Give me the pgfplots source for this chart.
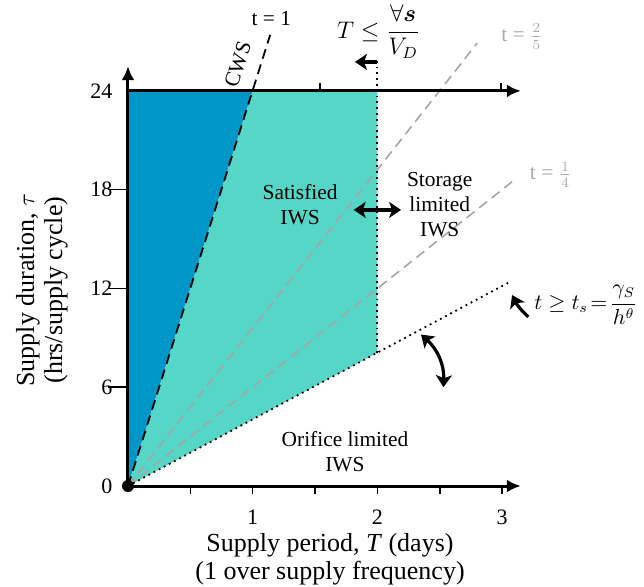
\documentclass[border=0pt]{standalone}
\usepackage{amsmath}
\usepackage{fontspec}
\setmainfont{Liberation Serif}
\usepackage{pgfplots}
\pgfplotsset{compat=1.18}
\usetikzlibrary{arrows.meta}
\definecolor{cwsblue}{RGB}{0,150,200}
\definecolor{iwsteal}{RGB}{85,214,199}
\definecolor{lgray}{RGB}{165,165,165}
\definecolor{tgray}{RGB}{170,170,170}
\begin{document}
\begin{tikzpicture}
\useasboundingbox (-64pt,-50pt) rectangle (258pt,243pt);
\begin{axis}[
  at={(0pt,0pt)}, anchor=south west,
  scale only axis, width=196.4pt, height=209.9pt,
  xmin=0, xmax=3.15, ymin=0, ymax=25.5,
  axis lines=left,
  axis line style={line width=1.5pt, -{Latex[length=7pt,width=6.5pt]}},
  axis on top,
  clip=false,
  xtick={0.5,1,1.5,2,2.5,3}, xticklabels={,1,,2,,3},
  ytick={6,12,18}, extra y ticks={0,24},
  extra y tick style={ytick style={/pgfplots/major tick length=0pt}},
  tick align=outside,
  xtick style={/pgfplots/major tick length=4pt, line width=0.8pt, black},
  ytick style={/pgfplots/major tick length=10pt, line width=0.8pt, black},
  tick label style={font=\fontsize{11}{13}\selectfont},
  xticklabel style={yshift=-4pt},
  /pgf/number format/assume math mode=true,
]
% regions
\addplot[fill=cwsblue, draw=none] coordinates {(0,0) (0,24) (1,24) (0,0)};
\addplot[fill=iwsteal, draw=none] coordinates {(0,0) (1,24) (2,24) (2,8.1) (0,0)};
% lines
\addplot[lgray, dash pattern=on 5pt off 3pt, line width=0.8pt] coordinates {(0,0) (2.8,26.9)};
\addplot[lgray, dash pattern=on 5pt off 3pt, line width=0.8pt] coordinates {(0,0) (3.1,18.6)};
\addplot[black, dash pattern=on 5pt off 3pt, line width=0.9pt] coordinates {(0,0) (1.14,27.4)};
\addplot[black, dotted, line width=0.9pt] coordinates {(0,0) (2,8.1) (3.06,12.39)};
\addplot[black, dotted, line width=0.9pt] coordinates {(2,8.1) (2,25.9)};
% top line at 24
\addplot[black, line width=1.5pt, -{Latex[length=7pt,width=6.5pt]}] coordinates {(0,24) (3.15,24)};
\draw[line width=0.8pt] (axis cs:1.54,24) -- ++(0,4pt);
\draw[line width=0.8pt] (axis cs:2.99,24) -- ++(0,4pt);
% origin dot
\fill (axis cs:0,0) circle (3pt);
% arrows
\draw[line width=1.6pt, -{Stealth[length=6pt,width=8pt,inset=1.5pt]}] (axis cs:2,25.76) -- (axis cs:1.82,25.76);
\draw[line width=1.6pt, {Stealth[length=6pt,width=8pt,inset=1.5pt]}-{Stealth[length=6pt,width=8pt,inset=1.5pt]}] (axis cs:1.81,16.77) -- (axis cs:2.19,16.77);
\draw[line width=1.6pt, {Stealth[length=6pt,width=8pt,inset=1.5pt]}-{Stealth[length=6pt,width=8pt,inset=1.5pt]}] (axis cs:2.35,9.2) to[bend left=25] (axis cs:2.53,6.0);
\draw[line width=1.6pt, -{Stealth[length=6pt,width=8pt,inset=1.5pt]}] (axis cs:3.21,10.27) to[bend left=10] (axis cs:3.08,11.6);
% texts
\def\lbl{\fontsize{10.7}{12.5}\selectfont}
\node[font=\lbl, rotate=72, inner sep=1pt] at (axis cs:0.88,25.6) {CWS};
\node[font=\lbl] at (axis cs:1.15,28.4) {t = 1};
\node[font=\fontsize{11.5}{13}\selectfont] at (axis cs:2.01,27.6) {$T \leq \dfrac{\forall\boldsymbol{s}}{V_D}$};
\node[font=\lbl, text=tgray, inner sep=1pt] at (axis cs:3.16,27.3) {t = $\frac{2}{5}$};
\node[font=\lbl, text=tgray, inner sep=1pt] at (axis cs:3.39,18.9) {t = $\frac{1}{4}$};
\node[font=\lbl, align=center] at (axis cs:1.38,17.1) {Satisfied\\IWS};
\node[font=\lbl, align=center] at (axis cs:2.5,17.1) {Storage\\limited\\IWS};
\node[font=\lbl, align=center] at (axis cs:1.74,2.07) {Orifice limited\\IWS};
\node[font=\fontsize{10.5}{12}\selectfont, anchor=west, inner sep=1pt] at (axis cs:3.24,11.0) {$t \geq t_s \!=\! \dfrac{\gamma_S}{h^{\theta}}$};
% axis labels
\node[font=\fontsize{13}{14}\selectfont, align=center] at (axis cs:1.62,-4.43) {Supply period, \textit{T} (days)\\(1 over supply frequency)};
\node[font=\fontsize{13}{14}\selectfont, align=center, rotate=90] at (axis cs:-0.69,11.9) {Supply duration, $\tau$\\(hrs/supply cycle)};
\end{axis}
\end{tikzpicture}
\end{document}
